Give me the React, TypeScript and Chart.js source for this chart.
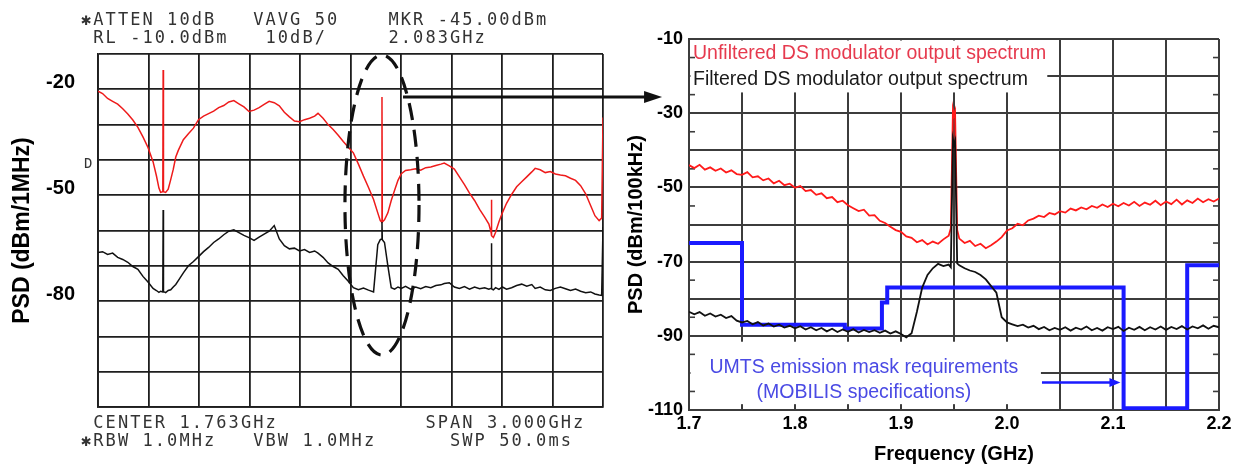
import React, { useEffect, useRef } from 'react';
import { Chart, registerables } from 'chart.js';

Chart.register(...registerables);

const W = 1242;
const H = 466;

// ---------- Left panel: spectrum analyser screen (MHz, dBm/1MHz) ----------
const leftGridMHz = [263, 563, 863, 1163, 1463, 1763, 2063, 2363, 2663, 2963, 3263];
const leftGridLevels = [-110, -100, -90, -80, -70, -60, -50, -40, -30, -20, -10];
const leftLabeledLevels = [-20, -50, -80];

const leftFreqMHz = [
  263, 290, 320, 350, 380, 410, 440, 470, 500, 530,
  560, 590, 610, 625, 635, 648, 650, 652, 665, 680,
  695, 710, 725, 740, 770, 800, 830, 860, 890, 920,
  950, 980, 1010, 1040, 1070, 1100, 1130, 1160, 1190, 1220,
  1250, 1280, 1310, 1340, 1370, 1400, 1430, 1460, 1490, 1520,
  1550, 1570, 1600, 1630, 1660, 1690, 1720, 1750, 1780, 1810,
  1840, 1870, 1900, 1925, 1940, 1948, 1950, 1952, 1965, 1985,
  2005, 2025, 2045, 2065, 2090, 2120, 2150, 2180, 2210, 2240,
  2270, 2300, 2320, 2350, 2380, 2410, 2440, 2470, 2500, 2530,
  2560, 2585, 2598, 2600, 2602, 2612, 2625, 2645, 2665, 2690,
  2720, 2750, 2780, 2810, 2840, 2860, 2890, 2920, 2950, 2980,
  3010, 3040, 3070, 3100, 3130, 3160, 3190, 3215, 3240, 3255,
  3263,
];

const leftUnfiltered = [
  -20.5, -21.2, -22.6, -23.4, -24.2, -25.5, -27.0, -28.7, -30.8, -33.5,
  -36.5, -40.5, -44.5, -48.0, -49.2, -49.0, -14.5, -49.0, -49.2, -48.3,
  -45.6, -42.7, -39.2, -37.3, -34.3, -32.6, -31.0, -28.6, -27.6, -26.9,
  -26.2, -25.2, -24.6, -23.6, -23.2, -24.1, -25.0, -26.3, -25.9, -25.2,
  -24.3, -23.4, -23.8, -24.7, -26.5, -27.8, -29.0, -29.2, -28.6, -28.2,
  -27.6, -26.8, -28.2, -30.0, -31.4, -33.0, -34.8, -36.4, -38.0, -41.2,
  -44.6, -47.8, -51.2, -55.0, -57.2, -57.6, -22.2, -57.6, -57.0, -55.0,
  -51.5, -48.6, -45.8, -43.9, -43.0, -42.8, -42.5, -42.9, -42.2, -42.0,
  -41.6, -41.2, -40.9, -41.7, -42.6, -44.8, -47.0, -49.4, -51.5, -54.0,
  -56.2, -58.2, -60.5, -51.3, -61.5, -62.0, -60.5, -57.5, -55.0, -52.3,
  -49.8, -47.6, -46.2, -44.8, -43.4, -42.4, -42.8, -43.6, -43.3, -44.0,
  -44.3, -44.5, -45.2, -45.8, -47.3, -49.6, -53.0, -55.8, -57.2, -56.5,
  -28.0,
];

const leftFiltered = [
  -66.2, -66.0, -66.8, -66.4, -67.6, -68.2, -69.0, -70.2, -71.0, -73.0,
  -74.6, -76.4, -77.0, -77.5, -77.2, -77.4, -54.2, -77.3, -77.6, -77.0,
  -76.8, -76.0, -75.3, -74.2, -72.0, -70.0, -68.8, -67.4, -66.0, -64.8,
  -63.4, -62.4, -61.2, -60.2, -59.8, -60.6, -61.4, -62.0, -62.8, -61.9,
  -61.0, -60.2, -58.6, -62.4, -64.3, -65.2, -65.0, -65.8, -65.4, -66.2,
  -65.8, -66.4, -67.6, -69.2, -70.2, -71.0, -72.8, -74.4, -76.2, -76.8,
  -76.3, -76.9, -77.4, -64.0, -62.6, -62.4, -57.6, -62.6, -63.4, -70.0,
  -76.2, -76.6, -76.0, -76.4, -75.8, -76.6, -76.0, -76.5, -75.9, -76.2,
  -75.6, -75.4, -75.0, -74.8, -76.0, -76.4, -75.9, -76.6, -76.0, -76.5,
  -76.2, -76.6, -76.4, -63.6, -76.5, -76.8, -76.2, -76.7, -76.0, -76.6,
  -76.2, -75.6, -75.2, -75.8, -75.3, -76.4, -76.0, -76.8, -77.0, -76.4,
  -76.0, -76.5, -77.0, -76.6, -77.2, -77.6, -77.4, -78.0, -78.3, -78.4,
  -59.0,
];

const headerLine1 = '\u2731ATTEN 10dB   VAVG 50    MKR -45.00dBm';
const headerLine2 = ' RL -10.0dBm   10dB/     2.083GHz';
const footerLine1 = ' CENTER 1.763GHz            SPAN 3.000GHz';
const footerLine2 = '\u2731RBW 1.0MHz   VBW 1.0MHz      SWP 50.0ms';

// dashed ellipse around the 1.95 GHz carrier, and the zoom arrow (data units of the left panel)
const ellipseMHz = [1730, 2170];
const ellipseDb = [-10.3, -95.3];
const zoomArrowMHz = [2075, 3614];
const zoomArrowDb = -22.2;

// ---------- Right panel: zoom 1.7 - 2.2 GHz (dBm/100kHz) ----------
const rightGridFreqs = [1.7, 1.75, 1.8, 1.85, 1.9, 1.95, 2.0, 2.05, 2.1, 2.15, 2.2];
const rightGridLevels = [-110, -100, -90, -80, -70, -60, -50, -40, -30, -20, -10];
const rightMinorLevels = [-105, -95, -85, -75, -65, -55, -45, -35, -25, -15];

const rightFreq = [
  1.700, 1.705, 1.710, 1.715, 1.720, 1.725, 1.730, 1.735, 1.740, 1.745,
  1.750, 1.755, 1.760, 1.765, 1.770, 1.775, 1.780, 1.785, 1.790, 1.795,
  1.800, 1.805, 1.810, 1.815, 1.820, 1.825, 1.830, 1.835, 1.840, 1.845,
  1.850, 1.855, 1.860, 1.865, 1.870, 1.875, 1.880, 1.885, 1.890, 1.895,
  1.900, 1.905, 1.910, 1.915, 1.920, 1.925, 1.930, 1.935, 1.940, 1.945,
  1.947, 1.949, 1.950, 1.951, 1.953,
  1.955, 1.960, 1.965, 1.970, 1.975, 1.980, 1.985, 1.990, 1.995,
  2.000, 2.005, 2.010, 2.015, 2.020, 2.025, 2.030, 2.035, 2.040, 2.045,
  2.050, 2.055, 2.060, 2.065, 2.070, 2.075, 2.080, 2.085, 2.090, 2.095,
  2.100, 2.105, 2.110, 2.115, 2.120, 2.125, 2.130, 2.135, 2.140, 2.145,
  2.150, 2.155, 2.160, 2.165, 2.170, 2.175, 2.180, 2.185, 2.190, 2.195,
  2.200,
];

const rightUnfiltered = [
  -44.0, -44.8, -43.9, -45.2, -44.6, -45.5, -44.9, -46.0, -45.4, -46.4,
  -46.6, -45.9, -47.3, -47.0, -48.1, -47.6, -48.9, -48.2, -49.4, -49.0,
  -50.1, -49.6, -51.0, -50.7, -52.0, -51.6, -52.9, -52.6, -54.0, -53.6,
  -54.8, -55.6, -56.4, -56.0, -57.6, -57.5, -59.0, -59.6, -60.6, -61.5,
  -62.0, -63.2, -63.6, -64.8, -64.2, -65.4, -64.6, -65.2, -64.0, -63.0,
  -61.0, -29.0, -30.5, -29.5, -61.5,
  -63.8, -65.0, -64.4, -65.8, -65.2, -66.4, -65.6, -64.6, -63.4,
  -61.6, -61.0, -59.8, -60.2, -58.9, -58.4, -57.6, -58.0, -56.9, -57.3,
  -56.4, -56.8, -55.7, -56.2, -55.4, -55.9, -55.0, -55.5, -54.6, -55.3,
  -54.4, -55.1, -54.2, -54.9, -53.9, -55.0, -54.1, -54.7, -53.6, -54.8,
  -53.8, -54.5, -53.3, -54.6, -53.5, -54.2, -53.0, -54.0, -53.2, -53.8,
  -53.0,
];

const rightFiltered = [
  -83.5, -84.2, -83.6, -84.6, -84.0, -84.8, -84.3, -85.2, -84.7, -85.9,
  -86.4, -86.0, -86.9, -86.3, -87.2, -86.7, -87.5, -87.0, -87.8, -87.3,
  -88.0, -87.4, -88.3, -87.7, -88.5, -87.9, -88.8, -88.1, -89.0, -88.3,
  -88.9, -88.2, -89.1, -88.4, -89.0, -88.5, -89.2, -88.6, -89.4, -88.8,
  -89.5, -90.4, -89.3, -83.5, -77.0, -73.6, -71.8, -70.6, -71.2, -70.8,
  -71.5, -37.0, -38.5, -37.5, -70.5,
  -71.0, -71.8, -72.4, -72.8, -73.6, -74.8, -76.6, -78.4, -85.0,
  -86.4, -86.9, -87.4, -87.0, -87.8, -87.3, -88.2, -87.6, -88.5, -87.9,
  -88.4, -87.7, -88.6, -87.8, -88.3, -87.5, -88.5, -87.9, -88.6, -87.7,
  -88.2, -87.6, -88.7, -87.8, -88.4, -87.6, -88.5, -87.7, -88.3, -87.5,
  -88.4, -87.6, -88.2, -87.4, -88.3, -87.5, -88.0, -87.2, -88.1, -87.3,
  -87.7,
];

const maskFreq = [1.7, 1.75, 1.75, 1.847, 1.847, 1.882, 1.882, 1.887, 1.887, 2.11, 2.11, 2.17, 2.17, 2.2];
const maskLevel = [-65, -65, -87, -87, -88, -88, -81, -81, -77, -77, -109.5, -109.5, -71, -71];

const legendTexts = ['Unfiltered DS modulator output spectrum', 'Filtered DS modulator output spectrum'];
const noteLines = ['UMTS emission mask requirements', '(MOBILIS specifications)'];

// annotation anchors (data units of the right panel)
const legendBox = [2.038, -24.4];
const noteBox = [2.032, -91.6, -108.6];
const noteCenterFreq = 1.865;
const noteLineLevels = [-98.6, -105.3];
const noteArrowFreq = [2.033, 2.107];
const noteArrowLevel = -102.6;

const SANS = 'Arial, "Liberation Sans", sans-serif';
const MONO = '"DejaVu Sans Mono", "Liberation Mono", monospace';

function mono(ctx: CanvasRenderingContext2D, text: string, x: number, y: number, pitch: number) {
  for (let i = 0; i < text.length; i++) {
    if (text[i] !== ' ') ctx.fillText(text[i], x + i * pitch, y);
  }
}

function seg(ctx: CanvasRenderingContext2D, x1: number, y1: number, x2: number, y2: number) {
  ctx.beginPath();
  ctx.moveTo(x1, y1);
  ctx.lineTo(x2, y2);
  ctx.stroke();
}

const leftDecor = {
  id: 'leftDecor',
  afterDraw(chart: any) {
    const { ctx, chartArea: a, scales } = chart;
    const x = scales.x;
    const y = scales.y;
    ctx.save();
    ctx.font = `17px ${MONO}`;
    ctx.fillStyle = '#333';
    ctx.textBaseline = 'middle';
    ctx.textAlign = 'left';
    const x0 = a.left - 17;
    const pitch = 12.3;
    mono(ctx, headerLine1, x0, a.top - 33, pitch);
    mono(ctx, headerLine2, x0, a.top - 15, pitch);
    mono(ctx, footerLine1, x0, a.bottom + 17, pitch);
    mono(ctx, footerLine2, x0, a.bottom + 35, pitch);
    ctx.font = `14px ${MONO}`;
    ctx.fillText('D', a.left - 14, y.getPixelForValue(-40) + 4);

    // dashed ellipse
    const ex1 = x.getPixelForValue(ellipseMHz[0]);
    const ex2 = x.getPixelForValue(ellipseMHz[1]);
    const ey1 = y.getPixelForValue(ellipseDb[0]);
    const ey2 = y.getPixelForValue(ellipseDb[1]);
    ctx.strokeStyle = '#111';
    ctx.lineWidth = 3.2;
    ctx.setLineDash([17, 10]);
    ctx.beginPath();
    ctx.ellipse((ex1 + ex2) / 2, (ey1 + ey2) / 2, (ex2 - ex1) / 2, (ey2 - ey1) / 2, 0, 0, Math.PI * 2);
    ctx.stroke();
    ctx.setLineDash([]);

    // zoom arrow
    const ax1 = x.getPixelForValue(zoomArrowMHz[0]);
    const ax2 = x.getPixelForValue(zoomArrowMHz[1]);
    const ay = y.getPixelForValue(zoomArrowDb);
    ctx.lineWidth = 3;
    seg(ctx, ax1, ay, ax2 - 12, ay);
    ctx.fillStyle = '#111';
    ctx.beginPath();
    ctx.moveTo(ax2, ay);
    ctx.lineTo(ax2 - 18, ay - 6);
    ctx.lineTo(ax2 - 18, ay + 6);
    ctx.closePath();
    ctx.fill();
    ctx.restore();
  },
};

const rightDecor = {
  id: 'rightDecor',
  beforeDatasetsDraw(chart: any) {
    const { ctx, chartArea: a, scales } = chart;
    const x = scales.x;
    const y = scales.y;
    ctx.save();
    ctx.fillStyle = '#fff';
    const lbR = x.getPixelForValue(legendBox[0]);
    const lbB = y.getPixelForValue(legendBox[1]);
    ctx.fillRect(a.left + 1.5, a.top + 1.5, lbR - a.left - 1.5, lbB - a.top - 1.5);
    const nbR = x.getPixelForValue(noteBox[0]);
    const nbT = y.getPixelForValue(noteBox[1]);
    const nbB = y.getPixelForValue(noteBox[2]);
    ctx.fillRect(a.left + 1.5, nbT, nbR - a.left - 1.5, nbB - nbT);

    ctx.strokeStyle = '#3c3c3c';
    ctx.lineWidth = 1.6;
    for (const v of rightMinorLevels) {
      const py = y.getPixelForValue(v);
      seg(ctx, a.left, py, a.left + 6, py);
      seg(ctx, a.right - 6, py, a.right, py);
    }
    for (const f of rightGridFreqs) {
      const px = x.getPixelForValue(f);
      seg(ctx, px, a.bottom - 6, px, a.bottom);
    }

    ctx.font = `19.5px ${SANS}`;
    ctx.textBaseline = 'middle';
    ctx.textAlign = 'left';
    ctx.fillStyle = '#e63a4e';
    ctx.fillText(legendTexts[0], a.left + 4, a.top + 15);
    ctx.fillStyle = '#1a1a1a';
    ctx.fillText(legendTexts[1], a.left + 4, a.top + 41);

    ctx.fillStyle = '#4a4ae4';
    ctx.textAlign = 'center';
    const nx = x.getPixelForValue(noteCenterFreq);
    ctx.fillText(noteLines[0], nx, y.getPixelForValue(noteLineLevels[0]));
    ctx.fillText(noteLines[1], nx, y.getPixelForValue(noteLineLevels[1]));

    const ax1 = x.getPixelForValue(noteArrowFreq[0]);
    const ax2 = x.getPixelForValue(noteArrowFreq[1]);
    const ay = y.getPixelForValue(noteArrowLevel);
    ctx.strokeStyle = '#1a1aff';
    ctx.fillStyle = '#1a1aff';
    ctx.lineWidth = 2.5;
    seg(ctx, ax1, ay, ax2 - 8, ay);
    ctx.beginPath();
    ctx.moveTo(ax2, ay);
    ctx.lineTo(ax2 - 11, ay - 4.5);
    ctx.lineTo(ax2 - 11, ay + 4.5);
    ctx.closePath();
    ctx.fill();
    ctx.restore();
  },
};

function pairs(xs: number[], ys: number[]) {
  return xs.map((v, i) => ({ x: v, y: ys[i] }));
}

export default function App() {
  const leftRef = useRef<HTMLCanvasElement>(null);
  const rightRef = useRef<HTMLCanvasElement>(null);

  useEffect(() => {
    document.body.style.margin = '0';
    const gridLeft = { color: '#1e1e1e', lineWidth: 1.8, drawTicks: false };
    const left = new Chart(leftRef.current as HTMLCanvasElement, {
      type: 'line',
      data: {
        datasets: [
          {
            label: 'Filtered',
            data: pairs(leftFreqMHz, leftFiltered),
            borderColor: '#111',
            borderWidth: 1.5,
            pointRadius: 0,
            tension: 0,
            order: 0,
          },
          {
            label: 'Unfiltered',
            data: pairs(leftFreqMHz, leftUnfiltered),
            borderColor: '#ee1b1b',
            borderWidth: 1.5,
            pointRadius: 0,
            tension: 0,
            order: 1,
          },
        ],
      },
      options: {
        responsive: false,
        animation: false,
        layout: { padding: { left: 0, right: W - 603, top: 54, bottom: H - 407 } },
        plugins: { legend: { display: false }, tooltip: { enabled: false } },
        scales: {
          x: {
            type: 'linear',
            min: 263,
            max: 3263,
            afterBuildTicks: (s: any) => {
              s.ticks = leftGridMHz.map((v) => ({ value: v }));
            },
            afterFit: (s: any) => {
              s.height = 0;
            },
            ticks: { display: false },
            grid: gridLeft,
            border: { color: '#1e1e1e', width: 1.8 },
          },
          y: {
            type: 'linear',
            min: -110,
            max: -10,
            afterBuildTicks: (s: any) => {
              s.ticks = leftGridLevels.map((v) => ({ value: v }));
            },
            afterFit: (s: any) => {
              s.width = 98;
            },
            ticks: {
              autoSkip: false,
              callback: (v: any) => (leftLabeledLevels.includes(Number(v)) ? String(v) : ''),
              font: { family: SANS, weight: 'bold', size: 20 },
              color: '#000',
              padding: 23,
              labelOffset: -7,
            },
            grid: gridLeft,
            border: { color: '#1e1e1e', width: 1.8 },
            title: {
              display: true,
              text: 'PSD (dBm/1MHz)',
              color: '#000',
              font: { family: SANS, weight: 'bold', size: 23 },
              padding: { top: 9, bottom: 0 },
            },
          },
        },
      },
      plugins: [leftDecor],
    } as any);

    const gridRight = { color: '#3c3c3c', lineWidth: 2, drawTicks: false };
    const right = new Chart(rightRef.current as HTMLCanvasElement, {
      type: 'line',
      data: {
        datasets: [
          {
            label: legendTexts[1],
            data: pairs(rightFreq, rightFiltered),
            borderColor: '#111',
            borderWidth: 1.8,
            pointRadius: 0,
            tension: 0,
            order: 0,
          },
          {
            label: legendTexts[0],
            data: pairs(rightFreq, rightUnfiltered),
            borderColor: '#ff1a1a',
            borderWidth: 1.8,
            pointRadius: 0,
            tension: 0,
            order: 1,
          },
          {
            label: 'UMTS emission mask',
            data: pairs(maskFreq, maskLevel),
            borderColor: '#1a1aff',
            borderWidth: 4,
            pointRadius: 0,
            tension: 0,
            order: 2,
          },
        ],
      },
      options: {
        responsive: false,
        animation: false,
        layout: { padding: { left: 620, right: W - 1219, top: 39, bottom: 0 } },
        plugins: { legend: { display: false }, tooltip: { enabled: false } },
        scales: {
          x: {
            type: 'linear',
            min: 1.7,
            max: 2.2,
            afterBuildTicks: (s: any) => {
              s.ticks = rightGridFreqs.map((v) => ({ value: v }));
            },
            afterFit: (s: any) => {
              s.height = 56;
            },
            ticks: {
              autoSkip: false,
              maxRotation: 0,
              callback: (v: any) => (Math.round(Number(v) * 100) % 10 === 0 ? Number(v).toFixed(1) : ''),
              font: { family: SANS, weight: 'bold', size: 18 },
              color: '#000',
              padding: 3,
            },
            grid: gridRight,
            border: { color: '#3c3c3c', width: 2 },
            title: {
              display: true,
              text: 'Frequency (GHz)',
              color: '#000',
              font: { family: SANS, weight: 'bold', size: 20 },
              padding: { top: 0, bottom: 0 },
            },
          },
          y: {
            type: 'linear',
            min: -110,
            max: -10,
            afterBuildTicks: (s: any) => {
              s.ticks = rightGridLevels.map((v) => ({ value: v }));
            },
            afterFit: (s: any) => {
              s.width = 69;
            },
            ticks: {
              autoSkip: false,
              callback: (v: any) => ((Number(v) + 10) % 20 === 0 ? String(v) : ''),
              font: { family: SANS, weight: 'bold', size: 18 },
              color: '#000',
              padding: 6,
            },
            grid: gridRight,
            border: { color: '#3c3c3c', width: 2 },
            title: {
              display: true,
              text: 'PSD (dBm/100kHz)',
              color: '#000',
              font: { family: SANS, weight: 'bold', size: 20 },
              padding: { top: 4, bottom: 0 },
            },
          },
        },
      },
      plugins: [rightDecor],
    } as any);

    return () => {
      left.destroy();
      right.destroy();
    };
  }, []);

  return (
    <div style={{ position: 'fixed', left: 0, top: 0, width: W, height: H, background: '#fff' }}>
      <canvas ref={leftRef} width={W} height={H} style={{ position: 'absolute', left: 0, top: 0 }} />
      <canvas ref={rightRef} width={W} height={H} style={{ position: 'absolute', left: 0, top: 0 }} />
    </div>
  );
}
